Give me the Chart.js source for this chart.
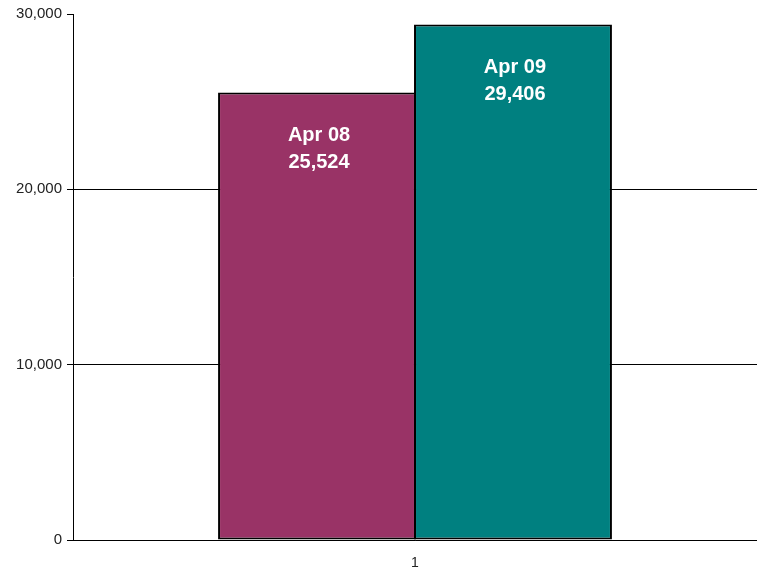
<!DOCTYPE html>
<html>
<head>
<meta charset="utf-8">
<script src="https://cdn.jsdelivr.net/npm/chart.js@4"></script>
<style>
  html, body { margin: 0; padding: 0; background: #fff; }
  #wrap { position: relative; width: 757px; height: 569px; }
</style>
</head>
<body>
<div id="wrap"><canvas id="c"></canvas></div>
<script>
// ── Data ──────────────────────────────────────────────────────
const categories = ["1"];
const seriesNames = ["Apr 08", "Apr 09"];
const seriesValues = [[25524], [29406]];
const seriesColors = ["#993366", "#008080"];
const yTicks = [0, 10000, 20000, 30000];

const fmt = v => v.toLocaleString("en-US");

// labels drawn inside the top of each bar
const barLabels = {
  id: "barLabels",
  afterDatasetsDraw(chart) {
    const ctx = chart.ctx;
    ctx.save();
    ctx.fillStyle = "#fff";
    ctx.font = "bold 20px 'Liberation Sans', Arial, sans-serif";
    ctx.textAlign = "center";
    ctx.textBaseline = "middle";
    chart.data.datasets.forEach((ds, i) => {
      chart.getDatasetMeta(i).data.forEach((bar, j) => {
        ctx.fillText(ds.label, bar.x + 2, bar.y + 43);
        ctx.fillText(fmt(ds.data[j]), bar.x + 2, bar.y + 70);
      });
    });
    ctx.restore();
  }
};

new Chart(document.getElementById("c"), {
  type: "bar",
  data: {
    labels: categories,
    datasets: seriesNames.map((name, i) => ({
      label: name,
      data: seriesValues[i],
      backgroundColor: seriesColors[i],
      borderColor: "#000",
      borderWidth: 2,
      borderSkipped: false,
      barPercentage: 1.01,
      categoryPercentage: 0.573
    }))
  },
  options: {
    responsive: true, maintainAspectRatio: false, animation: false,
    layout: { padding: { top: 8, right: 0, left: -4, bottom: 0 } },
    plugins: { legend: { display: false }, tooltip: { enabled: false } },
    scales: {
      x: {
        grid: { display: false },
        border: { display: true, color: "#000", width: 1 },
        ticks: { color: "#222", padding: 7, font: { family: "'Liberation Sans', Arial, sans-serif", size: 14 } },
        afterFit: s => { s.height = 29; }
      },
      y: {
        min: 0, max: 30000,
        afterBuildTicks: s => { s.ticks = yTicks.map(v => ({ value: v })); },
        grid: {
          color: c => (c.tick && c.tick.value === 30000 ? "rgba(0,0,0,0)" : "#000"),
          tickColor: "#000", tickLength: 6, lineWidth: 1
        },
        border: { display: true, color: "#000", width: 1 },
        ticks: { color: "#222", padding: 5, callback: v => fmt(v), font: { family: "'Liberation Sans', Arial, sans-serif", size: 15 } },
        afterFit: s => { s.width = 77; }
      }
    }
  },
  plugins: [barLabels]
});
</script>
</body>
</html>
